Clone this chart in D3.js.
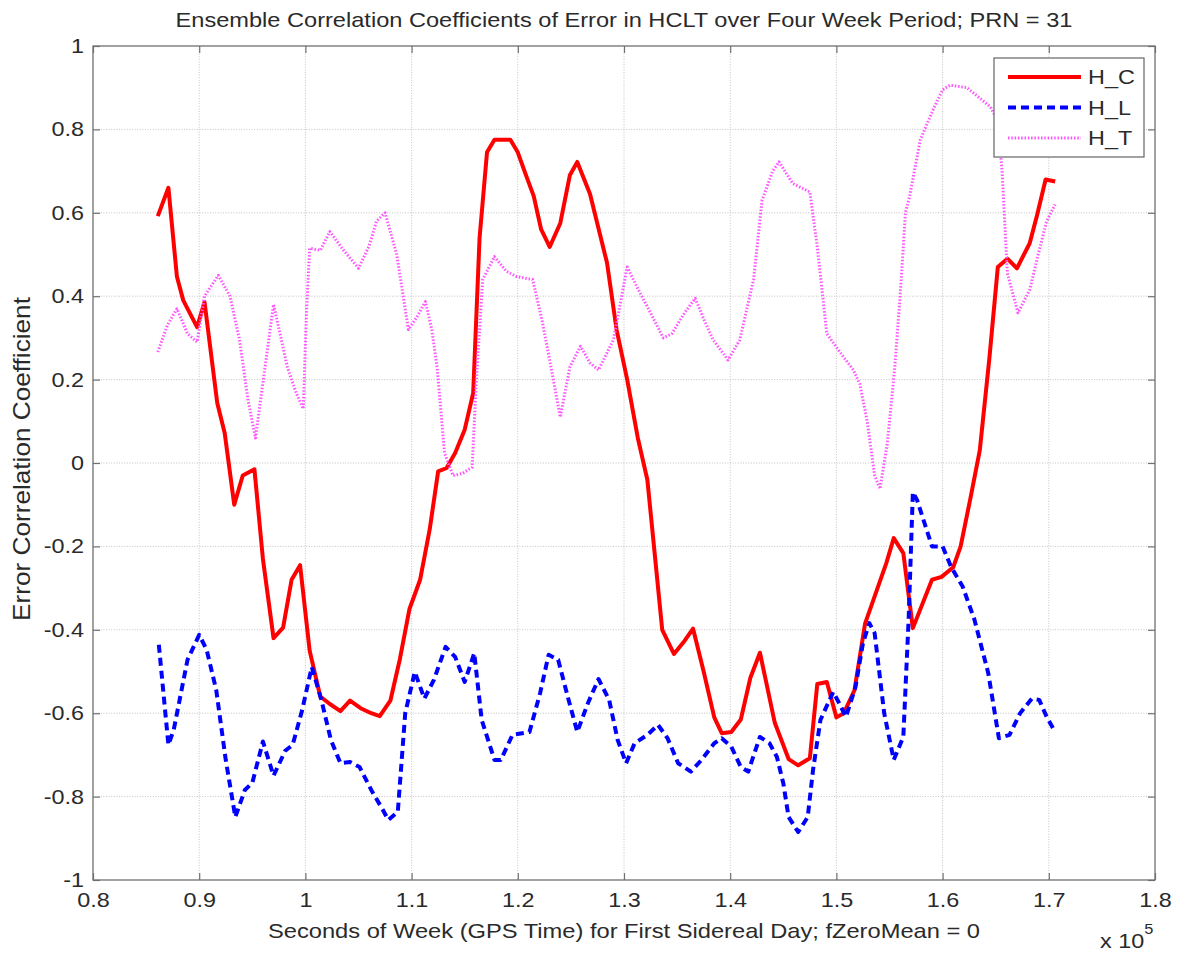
<!DOCTYPE html>
<html>
<head>
<meta charset="utf-8">
<script src="https://cdn.jsdelivr.net/npm/d3@7"></script>
<style>
  html, body { margin: 0; padding: 0; background: #ffffff; }
  svg { display: block; }
  text { font-family: "Liberation Sans", Arial, Helvetica, sans-serif; fill: #2a2a2a; }
</style>
</head>
<body>
<svg id="chart" width="1180" height="955"></svg>
<script>
// Axis tick values (x in units of 1e5 seconds of week)
const xTicks = [0.8, 0.9, 1.0, 1.1, 1.2, 1.3, 1.4, 1.5, 1.6, 1.7, 1.8];
const yTicks = [-1, -0.8, -0.6, -0.4, -0.2, 0, 0.2, 0.4, 0.6, 0.8, 1];

const seriesNames = ["H_C", "H_L", "H_T"];

// H_C : horizontal / cross-track error correlation
const hcX = [0.861,0.871,0.879,0.885,0.898,0.905,0.917,0.924,0.933,0.941,0.952,0.960,0.970,0.979,0.987,0.995,
  1.004,1.014,1.023,1.033,1.042,1.052,1.062,1.070,1.080,1.089,1.098,1.108,1.117,1.125,1.133,1.141,1.150,1.158,
  1.164,1.171,1.178,1.193,1.200,1.207,1.215,1.222,1.230,1.240,1.249,1.256,1.268,1.284,1.293,1.303,1.313,1.322,
  1.329,1.336,1.347,1.356,1.365,1.375,1.385,1.392,1.401,1.410,1.419,1.428,1.442,1.455,1.464,1.475,1.482,1.491,
  1.500,1.507,1.517,1.527,1.536,1.547,1.554,1.563,1.572,1.590,1.599,1.610,1.617,1.626,1.635,1.644,1.652,1.661,
  1.670,1.682,1.689,1.697,1.706];
const hcY = [0.592,0.660,0.447,0.390,0.326,0.386,0.144,0.072,-0.100,-0.030,-0.015,-0.230,-0.420,-0.395,-0.280,-0.245,
  -0.450,-0.560,-0.578,-0.595,-0.570,-0.588,-0.600,-0.607,-0.570,-0.470,-0.350,-0.280,-0.160,-0.020,-0.012,0.024,0.080,0.168,
  0.540,0.745,0.775,0.775,0.745,0.695,0.640,0.560,0.518,0.575,0.690,0.722,0.645,0.480,0.320,0.200,0.060,-0.040,
  -0.220,-0.400,-0.458,-0.430,-0.397,-0.500,-0.610,-0.648,-0.645,-0.615,-0.515,-0.455,-0.623,-0.710,-0.725,-0.708,-0.530,-0.525,
  -0.610,-0.600,-0.545,-0.385,-0.320,-0.240,-0.180,-0.216,-0.396,-0.280,-0.273,-0.250,-0.200,-0.087,0.030,0.250,0.470,0.490,
  0.467,0.527,0.595,0.680,0.675];

// H_L : horizontal / long-track error correlation
const hlX = [0.862,0.871,0.876,0.889,0.900,0.907,0.916,0.925,0.934,0.943,0.950,0.960,0.970,0.981,0.988,0.997,
  1.006,1.015,1.024,1.033,1.042,1.051,1.062,1.073,1.078,1.087,1.094,1.103,1.112,1.121,1.132,1.141,1.150,1.159,
  1.166,1.178,1.184,1.195,1.211,1.221,1.229,1.238,1.247,1.256,1.266,1.276,1.286,1.294,1.302,1.310,1.322,1.332,
  1.341,1.351,1.363,1.373,1.385,1.392,1.401,1.410,1.417,1.428,1.437,1.444,1.450,1.455,1.464,1.473,1.478,1.485,
  1.497,1.502,1.509,1.518,1.525,1.531,1.536,1.545,1.554,1.563,1.568,1.572,1.576,1.590,1.600,1.608,1.619,1.630,
  1.643,1.653,1.663,1.673,1.684,1.691,1.698,1.706];
const hlY = [-0.436,-0.676,-0.640,-0.472,-0.412,-0.448,-0.544,-0.712,-0.849,-0.784,-0.767,-0.668,-0.750,-0.690,-0.676,-0.592,
  -0.489,-0.568,-0.664,-0.720,-0.717,-0.729,-0.784,-0.832,-0.856,-0.837,-0.600,-0.501,-0.565,-0.520,-0.441,-0.465,-0.525,-0.456,
  -0.616,-0.712,-0.712,-0.652,-0.645,-0.552,-0.460,-0.472,-0.560,-0.645,-0.576,-0.518,-0.568,-0.664,-0.720,-0.672,-0.652,-0.628,
  -0.660,-0.720,-0.740,-0.712,-0.672,-0.660,-0.680,-0.729,-0.740,-0.657,-0.672,-0.705,-0.768,-0.849,-0.885,-0.849,-0.736,-0.616,
  -0.549,-0.573,-0.609,-0.537,-0.432,-0.384,-0.408,-0.600,-0.712,-0.657,-0.376,-0.070,-0.089,-0.200,-0.200,-0.249,-0.297,-0.376,
  -0.504,-0.660,-0.652,-0.600,-0.565,-0.568,-0.609,-0.645];

// H_T : horizontal / vertical error correlation
const htX = [0.861,0.870,0.879,0.889,0.898,0.905,0.918,0.929,0.938,0.946,0.953,0.962,0.970,0.977,0.983,0.991,
  0.998,1.001,1.004,1.014,1.023,1.036,1.050,1.060,1.067,1.075,1.086,1.097,1.105,1.113,1.119,1.124,1.131,1.139,
  1.148,1.157,1.161,1.167,1.178,1.189,1.199,1.214,1.223,1.232,1.240,1.249,1.259,1.268,1.276,1.290,1.303,1.312,
  1.325,1.337,1.345,1.357,1.367,1.376,1.384,1.398,1.409,1.422,1.430,1.440,1.446,1.459,1.475,1.482,1.491,1.505,
  1.516,1.522,1.529,1.536,1.541,1.548,1.555,1.560,1.565,1.569,1.579,1.591,1.600,1.607,1.623,1.635,1.645,1.652,
  1.656,1.661,1.671,1.682,1.690,1.698,1.706];
const htY = [0.266,0.330,0.370,0.310,0.290,0.400,0.450,0.400,0.295,0.150,0.060,0.230,0.380,0.300,0.230,0.170,
  0.130,0.360,0.515,0.510,0.555,0.510,0.467,0.520,0.580,0.600,0.500,0.320,0.350,0.387,0.320,0.230,0.024,-0.030,
  -0.025,-0.010,0.200,0.440,0.495,0.460,0.447,0.440,0.340,0.220,0.110,0.230,0.280,0.240,0.223,0.295,0.470,0.423,
  0.360,0.300,0.310,0.360,0.395,0.340,0.295,0.247,0.295,0.440,0.630,0.700,0.722,0.670,0.650,0.518,0.310,0.260,
  0.223,0.190,0.100,-0.030,-0.062,0.048,0.230,0.400,0.600,0.640,0.775,0.847,0.895,0.906,0.900,0.875,0.854,0.820,
  0.700,0.455,0.360,0.415,0.500,0.580,0.620];

const seriesColors = ["#ff0000", "#0000ff", "#ff55ff"];

const W = 1180, H = 955;
const plot = { left: 93, right: 1155, top: 46, bottom: 880 };
const SX = 1.17;               // horizontal stretch of lettering
const FONT = 20;
const AXIS_COLOR = "#707070";

const svg = d3.select("#chart");
svg.append("rect").attr("width", W).attr("height", H).attr("fill", "#ffffff");

const x = d3.scaleLinear().domain([0.8, 1.8]).range([plot.left, plot.right]);
const y = d3.scaleLinear().domain([-1, 1]).range([plot.bottom, plot.top]);

const fmt = d => String(+d.toFixed(1));

function stretch(sel, sx = SX) {
  sel.each(function () {
    const t = d3.select(this);
    const tx = +(t.attr("x") || 0);
    t.attr("transform", `translate(${tx},0) scale(${sx},1) translate(${-tx},0)`);
  });
}

// grid
const grid = svg.append("g").attr("stroke", "#c2c2c2").attr("stroke-width", 1)
  .attr("stroke-dasharray", "1,1.6");
grid.selectAll("line.gx").data(xTicks.slice(1, -1)).join("line")
  .attr("x1", d => x(d)).attr("x2", d => x(d))
  .attr("y1", plot.top).attr("y2", plot.bottom);
grid.selectAll("line.gy").data(yTicks.slice(1, -1)).join("line")
  .attr("x1", plot.left).attr("x2", plot.right)
  .attr("y1", d => y(d)).attr("y2", d => y(d));

// series
const line = d3.line().x(d => x(d[0])).y(d => y(d[1]));
const series = [
  { name: seriesNames[0], pts: d3.zip(hcX, hcY), color: seriesColors[0], width: 4, dash: null },
  { name: seriesNames[1], pts: d3.zip(hlX, hlY), color: seriesColors[1], width: 4, dash: "8,5" },
  { name: seriesNames[2], pts: d3.zip(htX, htY), color: seriesColors[2], width: 3, dash: "1.5,1.8" }
];
series.forEach(s => {
  svg.append("path").datum(s.pts)
    .attr("fill", "none")
    .attr("stroke", s.color)
    .attr("stroke-width", s.width)
    .attr("stroke-linejoin", "round")
    .attr("stroke-dasharray", s.dash)
    .attr("d", line);
});

// axes (ticks point inward on all four sides)
function styleAxis(g) {
  g.select(".domain").remove();
  g.selectAll(".tick line").attr("stroke", AXIS_COLOR).attr("stroke-width", 1.2);
  g.attr("font-size", FONT).attr("font-family", null);
  g.selectAll("text").attr("fill", "#2a2a2a");
}
const gx = svg.append("g").attr("transform", `translate(0,${plot.bottom})`)
  .call(d3.axisBottom(x).tickValues(xTicks).tickFormat(fmt).tickSizeInner(-7).tickSizeOuter(0).tickPadding(13))
  .call(styleAxis);
gx.selectAll("text").call(stretch);

const gy = svg.append("g").attr("transform", `translate(${plot.left},0)`)
  .call(d3.axisLeft(y).tickValues(yTicks).tickFormat(fmt).tickSizeInner(-7).tickSizeOuter(0).tickPadding(9))
  .call(styleAxis);
gy.selectAll("text").call(stretch);

svg.append("g").attr("transform", `translate(0,${plot.top})`)
  .call(d3.axisTop(x).tickValues(xTicks).tickFormat("").tickSizeInner(-7).tickSizeOuter(0))
  .call(styleAxis);
svg.append("g").attr("transform", `translate(${plot.right},0)`)
  .call(d3.axisRight(y).tickValues(yTicks).tickFormat("").tickSizeInner(-7).tickSizeOuter(0))
  .call(styleAxis);

// frame
svg.append("rect")
  .attr("x", plot.left).attr("y", plot.top)
  .attr("width", plot.right - plot.left).attr("height", plot.bottom - plot.top)
  .attr("fill", "none").attr("stroke", AXIS_COLOR).attr("stroke-width", 1.3);

// title and axis labels
const cx = (plot.left + plot.right) / 2;
svg.append("text").attr("x", cx).attr("y", 27)
  .attr("text-anchor", "middle").attr("font-size", FONT)
  .text("Ensemble Correlation Coefficients of Error in HCLT over Four Week Period; PRN = 31")
  .call(stretch, 1.18);
svg.append("text").attr("x", cx).attr("y", 938)
  .attr("text-anchor", "middle").attr("font-size", FONT)
  .text("Seconds of Week (GPS Time) for First Sidereal Day; fZeroMean = 0")
  .call(stretch, 1.185);
svg.append("text")
  .attr("transform", `translate(30,${(plot.top + plot.bottom) / 2 - 4}) rotate(-90) scale(1.19,1.05)`)
  .attr("text-anchor", "middle").attr("font-size", 22)
  .text("Error Correlation Coefficient");

// exponent label
const ex = svg.append("text").attr("x", 1100).attr("y", 948).attr("font-size", FONT);
ex.append("tspan").text("x 10");
ex.append("tspan").attr("dy", -14).attr("font-size", 14).text("5");
ex.call(stretch);

// legend
const lg = { x: plot.right - 161, y: plot.top + 12, w: 150, h: 99 };
const legend = svg.append("g");
legend.append("rect").attr("x", lg.x).attr("y", lg.y).attr("width", lg.w).attr("height", lg.h)
  .attr("fill", "#ffffff").attr("stroke", AXIS_COLOR).attr("stroke-width", 1.3);
series.forEach((s, i) => {
  const ly = lg.y + 19 + i * 30.5;
  legend.append("line")
    .attr("x1", lg.x + 14).attr("x2", lg.x + 87)
    .attr("y1", ly).attr("y2", ly)
    .attr("stroke", s.color).attr("stroke-width", s.width)
    .attr("stroke-dasharray", s.dash);
  legend.append("text").attr("x", lg.x + 94).attr("y", ly + 7.5)
    .attr("font-size", FONT).text(s.name).call(stretch);
});
</script>
</body>
</html>
